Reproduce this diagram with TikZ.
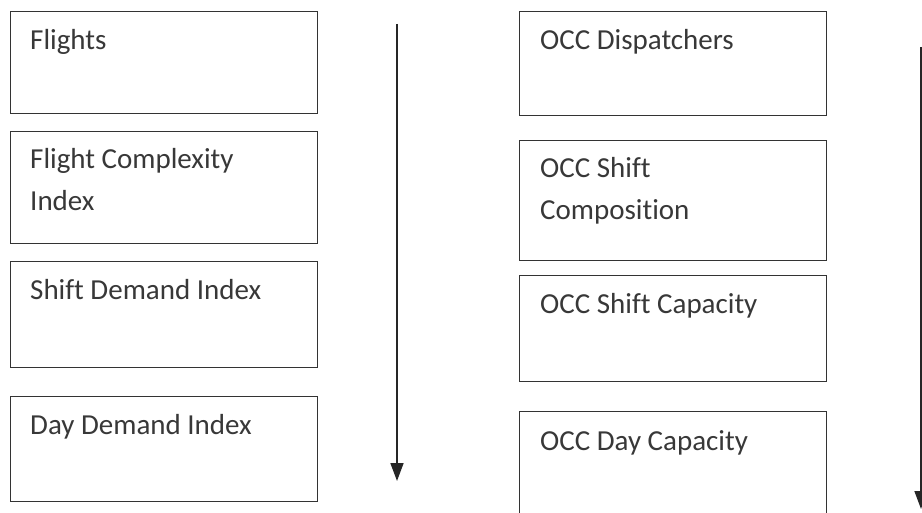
\documentclass[tikz,border=0pt]{standalone}
\usepackage{fontspec}
\setmainfont{Carlito}[Ligatures=NoCommon]
\usetikzlibrary{arrows.meta}
\tikzset{
  stagebox/.style={draw=black!80, line width=1.4pt, rectangle, anchor=north west,
    minimum width=307pt, inner sep=0pt, fill=white},
  stagetext/.style={anchor=base west, inner sep=0pt, align=left, text=black!78,
    font=\fontsize{29}{42}\selectfont},
  flow/.style={draw=black!85, line width=1.6pt, -{Triangle[length=18pt,width=13pt]}}
}
\begin{document}
\begin{tikzpicture}[x=1pt,y=-1pt]
  \useasboundingbox (0,0) rectangle (922,513);
  \clip (0,0) rectangle (922,513);
  \fill[white] (0,0) rectangle (922,513);

  % demand side
  \node[stagebox, minimum height=102pt] (flights) at (10,11) {};
  \node[stagebox, minimum height=112pt] (fci) at (10,131) {};
  \node[stagebox, minimum height=106pt] (sdi) at (10,261) {};
  \node[stagebox, minimum height=105pt] (ddi) at (10,396) {};

  % (base anchor of a two-line label sits on its last line)
  \node[stagetext] (flightsT) at ([xshift=20pt,yshift=-39pt]flights.north west) {Flights};
  \node[stagetext] (fciT) at ([xshift=20pt,yshift=-80pt]fci.north west) {Flight Complexity\\Index};
  \node[stagetext] (sdiT) at ([xshift=20pt,yshift=-39pt]sdi.north west) {Shift Demand Index};
  \node[stagetext] (ddiT) at ([xshift=20pt,yshift=-38pt]ddi.north west) {Day Demand Index};

  % capacity side
  \node[stagebox, minimum height=104pt] (disp) at (519,11) {};
  \node[stagebox, minimum height=120pt] (comp) at (519,140) {};
  \node[stagebox, minimum height=106pt] (scap) at (519,275) {};
  \node[stagebox, minimum height=112pt] (dcap) at (519,411) {};

  \node[stagetext] (dispT) at ([xshift=21pt,yshift=-39pt]disp.north west) {OCC Dispatchers};
  \node[stagetext] (compT) at ([xshift=21pt,yshift=-80pt]comp.north west) {OCC Shift\\Composition};
  \node[stagetext] (scapT) at ([xshift=21pt,yshift=-39pt]scap.north west) {OCC Shift Capacity};
  \node[stagetext] (dcapT) at ([xshift=21pt,yshift=-39pt]dcap.north west) {OCC Day Capacity};

  % aggregation direction
  \coordinate (demTop) at (397,24);
  \coordinate (demEnd) at (397,481);
  \coordinate (capTop) at (921,47);
  \coordinate (capEnd) at (921,509);
  \draw[flow] (demTop) -- (demEnd);
  \draw[flow] (capTop) -- (capEnd);
\end{tikzpicture}
\end{document}
